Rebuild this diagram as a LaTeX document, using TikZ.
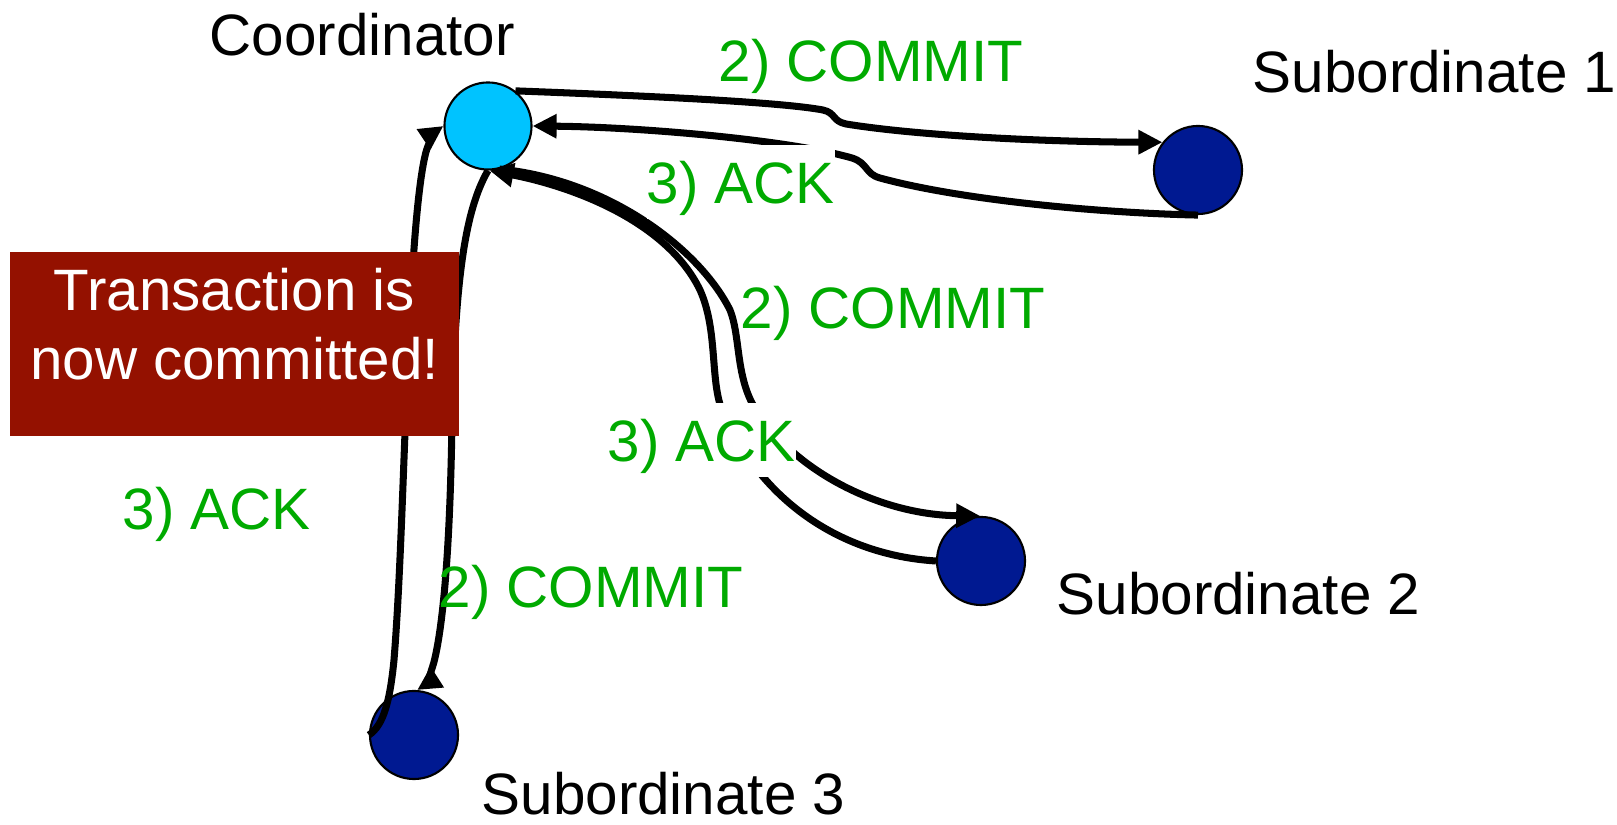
\documentclass[tikz,border=0pt]{standalone}
\usepackage{fontspec}
\setmainfont{Liberation Sans}
\usepackage{xcolor}
\usepackage{tikz}
\usetikzlibrary{arrows.meta, positioning}
\definecolor{msggreen}{RGB}{0,170,0}
\definecolor{coordblue}{RGB}{0,195,255}
\definecolor{subnavy}{RGB}{0,25,145}
\definecolor{notered}{RGB}{148,17,0}

\begin{document}
\begin{tikzpicture}[x=0.01cm, y=-0.01cm,
coordinator/.style={circle, draw=black, line width=0.6pt, fill=coordblue, minimum size=0.87cm, inner sep=0pt},
subordinate/.style={circle, draw=black, line width=0.6pt, fill=subnavy, minimum size=0.88cm, inner sep=0pt},
sitename/.style={anchor=base west, inner sep=0pt, font=\fontsize{16.6}{19.6}\selectfont},
msg/.style={anchor=base west, fill=white, text=msggreen, inner xsep=0pt, inner ysep=0.03cm, text height=0.56cm, text depth=0.12cm, font=\fontsize{16.6}{19.6}\selectfont},
flow/.style={line width=2pt, -{Triangle[length=0.24cm, width=0.23cm]}},
note/.style={rectangle, fill=notered, minimum width=4.49cm, minimum height=1.84cm, inner sep=0pt},
notetext/.style={text=white, align=center, inner sep=0pt, font=\fontsize{16.6}{19.6}\selectfont}
]
\useasboundingbox (0,0) rectangle (1617,825);

\node[coordinator] (coord) at (488,126) {};
\node[subordinate] (sub1) at (1198,170) {};
\node[subordinate] (sub2) at (981,561) {};
\node[subordinate] (sub3) at (414,735) {};

\node[sitename] (coordname) at (209,56) {Coordinator};
\node[sitename] (sub1name) at (1252,93) {Subordinate 1};
\node[sitename] (sub2name) at (1056,615) {Subordinate 2};
\node[sitename] (sub3name) at (481,815) {Subordinate 3};

\draw[flow] (coord.52) .. controls (650,96) and (780,102) .. (823,110) .. controls (836,113) and (832,121) .. (846,124) .. controls (920,136) and (1050,142) .. (sub1.142);
\draw[flow] (sub1.south) .. controls (1100,213) and (960,200) .. (880,178) .. controls (865,174) and (868,163) .. (852,158) .. controls (790,140) and (640,127) .. (coord.east);
\draw[flow] (coord.-75) .. controls (610,180) and (700,250) .. (730,310) .. controls (740,335) and (736,372) .. (752,403) .. controls (790,470) and (880,515) .. (sub2.91);
\draw[flow] (sub2.west) .. controls (840,555) and (760,500) .. (722,410) .. controls (710,380) and (718,330) .. (700,290) .. controls (665,218) and (565,185) .. (coord.-88);
\draw[flow] (coord.south) .. controls (465,210) and (455,280) .. (452,420) .. controls (450,560) and (442,630) .. (434,662) .. controls (430,676) and (425,685) .. (sub3.86);
\draw[flow] (sub3.west) .. controls (384,725) and (390,700) .. (394,660) .. controls (402,560) and (404,420) .. (412,280) .. controls (416,210) and (422,160) .. (428,146) .. controls (432,136) and (436,131) .. (coord.west);

\node[note] (note) at (234.5,344) {};
\node[notetext] (notetext) at (234.5,324) {Transaction is\\now committed!};

\node[msg] (commit1) at (718,81.5) {2) COMMIT};
\node[msg] (ack1) at (646,204) {3) ACK};
\node[msg] (commit2) at (740,329) {2) COMMIT};
\node[msg] (ack2) at (607,462) {3) ACK};
\node[msg] (ack3) at (122,530) {3) ACK};
\node[msg, fill=none] (commit3) at (438,608) {2) COMMIT};

\end{tikzpicture}
\end{document}
